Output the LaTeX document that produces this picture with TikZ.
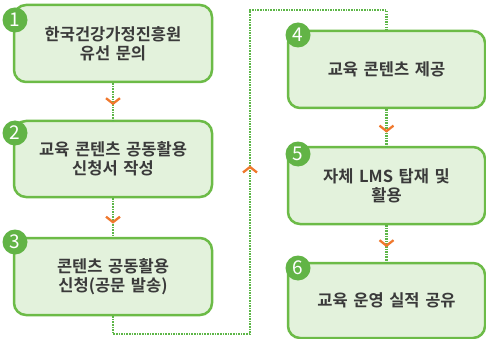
\documentclass[tikz,border=0pt]{standalone}
\usepackage{fontspec}
\setmainfont{Noto Sans CJK KR}
\newfontfamily\krbold{Noto Sans CJK KR Bold}[WordSpace=1.5]
\usetikzlibrary{decorations.markings, arrows.meta}
\definecolor{boxfill}{HTML}{E3F2DC}
\definecolor{boxline}{HTML}{6CBB47}
\definecolor{badgecol}{HTML}{62B446}
\definecolor{conncol}{HTML}{5DB648}
\definecolor{chevcol}{HTML}{F0782D}
\definecolor{txtcol}{HTML}{3A3A3A}
\tikzset{
  stepbox/.style={draw=boxline, fill=boxfill, line width=2.5pt, rounded corners=12pt,
    minimum width=198pt, minimum height=77pt, align=center,
    font=\krbold\fontsize{16.5}{19}\selectfont, text=txtcol, inner sep=0pt},
  badgenode/.style={circle, fill=badgecol, minimum size=25pt, inner sep=0pt,
    text=white, font=\fontsize{19}{19}\selectfont},
  connline/.style={draw=conncol, line width=2.6pt, dash pattern=on 1.5pt off 1.1pt},
  chevmark/.style={decorate, decoration={markings, mark=at position #1 with
    {\arrow{Straight Barb[length=5.5pt,width=14pt,line width=2.3pt,color=chevcol]}}}}
}
\begin{document}
\begin{tikzpicture}[x=1pt,y=-1pt]
\useasboundingbox (0,0) rectangle (486,339);
\fill[white] (0,0) rectangle (486,339);
\coordinate (k2) at (250,334);
\coordinate (k3) at (250,10);
\node[stepbox] (b1) at (113,43.5) {한국건강가정진흥원\\유선 문의};
\node[stepbox, minimum height=76pt] (b2) at (113,159) {교육 콘텐츠 공동활용\\신청서 작성};
\node[stepbox] (b3) at (113,276.5) {콘텐츠 공동활용\\신청(공문 발송)};
\node[stepbox, minimum width=197pt] (b4) at (386.5,69.5) {교육 콘텐츠 제공};
\node[stepbox, minimum width=197pt] (b5) at (386.5,185.5) {자체 LMS 탑재 및\\활용};
\node[stepbox, minimum width=197pt, minimum height=75pt] (b6) at (386.5,300.5) {교육 운영 실적 공유};
\node[badgenode] (n1) at (15,20) {1};
\node[badgenode] (n2) at (15,133) {2};
\node[badgenode] (n3) at (15,242) {3};
\node[badgenode] (n4) at (298,35) {4};
\node[badgenode] (n5) at (298,154) {5};
\node[badgenode] (n6) at (298,268) {6};
\draw[connline] (b1.south) -- (b2.north);
\draw[connline] (b2.south) -- (b3.north);
\draw[connline] (b3.south) |- (k2) -- (k3) -| (b4.north);
\draw[connline] (b4.south) -- (b5.north);
\draw[connline] (b5.south) -- (b6.north);
\path[chevmark=0.6] (b1.south) -- (b2.north);
\path[chevmark=0.66] (b2.south) -- (b3.north);
\path[chevmark=0.52] (k2) -- (k3);
\path[chevmark=0.64] (b4.south) -- (b5.north);
\path[chevmark=0.6] (b5.south) -- (b6.north);
\end{tikzpicture}
\end{document}
